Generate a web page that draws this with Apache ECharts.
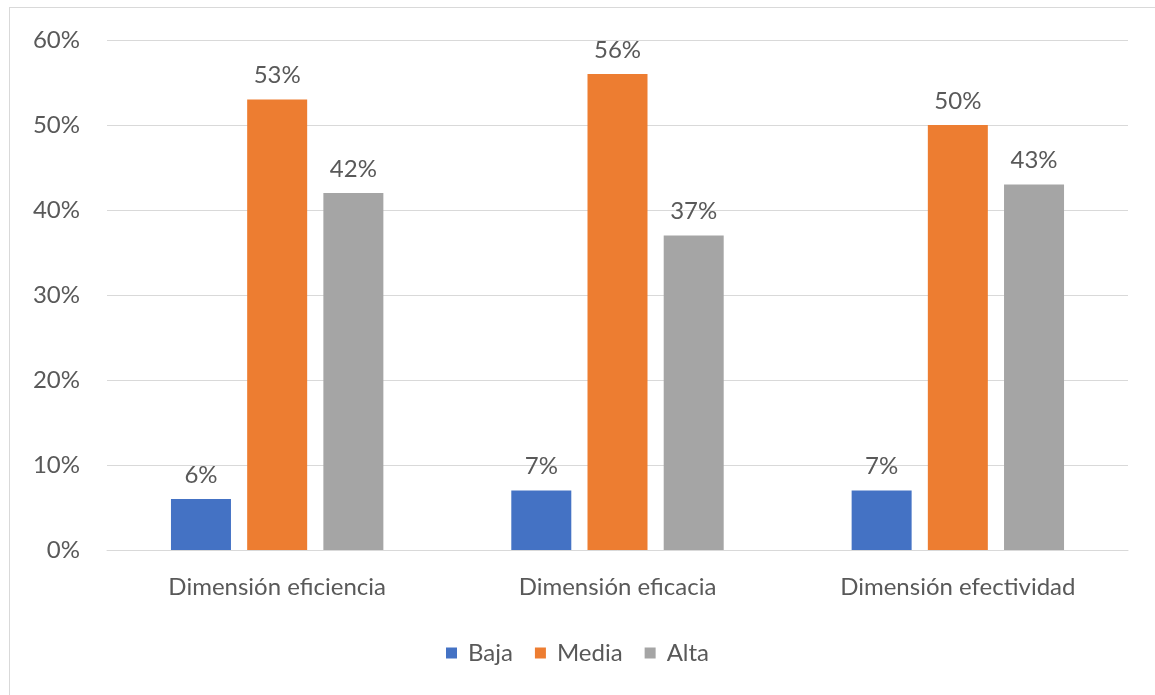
<!DOCTYPE html>
<html>
<head>
<meta charset="utf-8">
<script src="https://cdn.jsdelivr.net/npm/echarts@6/dist/echarts.min.js"></script>
<style>
  html, body { margin: 0; padding: 0; background: #fff; overflow: hidden; }
  #frame { position: absolute; left: 9px; top: 7px; width: 1300px; height: 800px; border: 1px solid #d9d9d9; box-sizing: border-box; }
  #chart { position: absolute; left: 0; top: 0; width: 1155px; height: 695px; }
</style>
</head>
<body>
<div id="frame"></div>
<div id="chart"></div>
<script>
// Dimensions evaluated and the share (%) of each level
const categories = ['Dimensión eficiencia', 'Dimensión eficacia', 'Dimensión efectividad'];
const baja = [6, 7, 7];
const media = [53, 56, 50];
const alta = [42, 37, 43];
const yTicks = [0, 10, 20, 30, 40, 50, 60];

const textColor = '#595959';
const fontFamily = 'Lato, "Open Sans", sans-serif';
const fontSize = 24;

function barSeries(name, values, color) {
  return {
    name: name,
    type: 'bar',
    data: values,
    barWidth: 60,
    barGap: '27%',
    itemStyle: { color: color },
    label: {
      show: true,
      position: 'top',
      distance: 12,
      color: textColor,
      fontFamily: fontFamily,
      fontSize: fontSize,
      formatter: p => p.value + '%'
    }
  };
}

const chart = echarts.init(document.getElementById('chart'), null, { renderer: 'canvas' });
chart.setOption({
  animation: false,
  backgroundColor: 'transparent',
  grid: { left: 107, right: 27, top: 40, bottom: 145, containLabel: false },
  legend: {
    top: 636,
    left: 'center',
    itemWidth: 11,
    itemHeight: 11,
    itemGap: 22,
    icon: 'rect',
    textStyle: { color: textColor, fontFamily: fontFamily, fontSize: fontSize, padding: [0, 0, 0, 6] },
    data: ['Baja', 'Media', 'Alta']
  },
  xAxis: {
    type: 'category',
    data: categories,
    axisLine: { lineStyle: { color: '#d9d9d9', width: 1 } },
    axisTick: { show: false },
    axisLabel: { color: textColor, fontFamily: fontFamily, fontSize: fontSize, margin: 25 }
  },
  yAxis: {
    type: 'value',
    min: yTicks[0],
    max: yTicks[yTicks.length - 1],
    interval: 10,
    axisLine: { show: false },
    axisTick: { show: false },
    splitLine: { lineStyle: { color: '#d9d9d9', width: 1 } },
    axisLabel: { color: textColor, fontFamily: fontFamily, fontSize: fontSize, margin: 27, formatter: v => v + '%' }
  },
  series: [
    barSeries('Baja', baja, '#4472c4'),
    barSeries('Media', media, '#ed7d31'),
    barSeries('Alta', alta, '#a5a5a5')
  ]
});
</script>
</body>
</html>
